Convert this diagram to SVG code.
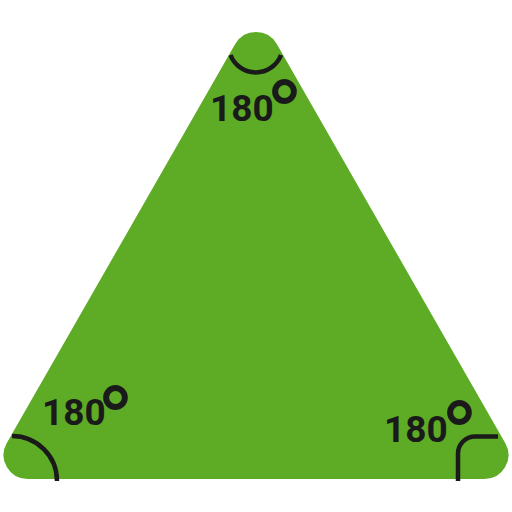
<svg xmlns="http://www.w3.org/2000/svg" width="512" height="512" viewBox="0 0 512 512">
<style>
.tri{fill:#5eab25}
.arc{fill:none;stroke:#1a1a1a;stroke-width:4.5;stroke-linecap:butt}
.lbl{font-family:Roboto,"Liberation Sans",Arial,sans-serif;font-weight:bold;font-size:37px;fill:#1a1a1a}
.deg{font-family:"DejaVu Sans",sans-serif;font-weight:bold;font-size:76px;fill:#1a1a1a}
</style>
<g id="triangle">
<path class="tri" d="M235.2,44 A24,24 0 0 1 276.8,44 L505.2,443 A24,24 0 0 1 484.4,479 L27.6,479 A24,24 0 0 1 6.8,443 Z"/>
</g>
<g id="angle-top">
<path class="arc" d="M230.5,55 A27,27 0 0 0 281,55"/>
<text class="lbl" x="210" y="121">180</text>
<text class="deg" x="265.5" y="137">°</text>
</g>
<g id="angle-left">
<path class="arc" d="M12,436 A45,45 0 0 1 57,481"/>
<text class="lbl" x="42" y="424.5">180</text>
<text class="deg" x="96.5" y="442.5">°</text>
</g>
<g id="angle-right">
<path class="arc" d="M498,436.5 L475,436.5 A17,17 0 0 0 458,453.5 L458,481"/>
<text class="lbl" x="384" y="441.5">180</text>
<text class="deg" x="440.5" y="458">°</text>
</g>
</svg>
